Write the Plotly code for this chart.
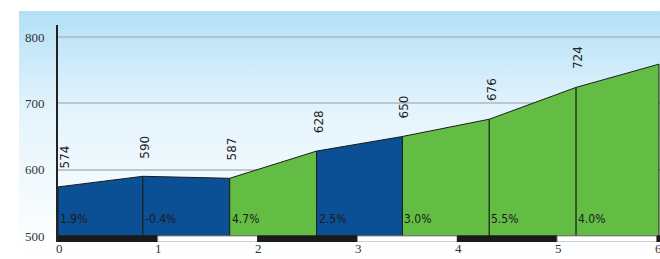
import base64
import plotly.graph_objects as go

# ---- data ----
distance_km = [0, 0.85, 1.72, 2.59, 3.45, 4.32, 5.19, 6.02]
elevation_m = [574, 590, 587, 628, 650, 676, 724, 759]
grade_labels = ["1.9%", "-0.4%", "4.7%", "2.5%", "3.0%", "5.5%", "4.0%"]
segment_colors = ["#0b4f94", "#0b4f94", "#63bd45", "#0b4f94", "#63bd45", "#63bd45", "#63bd45"]
x_ticks = [0, 1, 2, 3, 4, 5, 6]
y_ticks = [500, 600, 700, 800]

Y_MIN, Y_MAX = 491, 818
X_MAX = 6.03
BASE = 500

fig = go.Figure()

# filled segments
for i in range(len(grade_labels)):
    x0, x1 = distance_km[i], distance_km[i + 1]
    e0, e1 = elevation_m[i], elevation_m[i + 1]
    fig.add_trace(go.Scatter(
        x=[x0, x0, x1, x1, x0], y=[BASE, e0, e1, BASE, BASE],
        mode="lines", fill="toself", fillcolor=segment_colors[i],
        line=dict(color="#1c1c1c", width=1), hoverinfo="skip", showlegend=False))

annotations = []
# elevation labels (rotated)
for i in range(len(grade_labels)):
    annotations.append(dict(
        x=distance_km[i], y=elevation_m[i], xref="x", yref="y",
        text=str(elevation_m[i]), showarrow=False, textangle=-90,
        xanchor="center", yanchor="bottom", xshift=7 if i == 0 else 2, yshift=16,
        font=dict(family="DejaVu Sans", size=12, color="#222222")))
# grade labels
for i, g in enumerate(grade_labels):
    annotations.append(dict(
        x=distance_km[i], y=BASE, xref="x", yref="y", text=g, showarrow=False,
        xanchor="left", yanchor="middle", xshift=0, yshift=17,
        font=dict(family="DejaVu Sans Condensed", size=12, color="#1a1a1a")))
# km tick labels under the band bar
for k in x_ticks:
    annotations.append(dict(
        x=k, y=0, xref="x", yref="paper", text=str(k), showarrow=False,
        xanchor="center", yanchor="middle", xshift=1, yshift=-6,
        font=dict(family="Liberation Sans Narrow", size=13, color="#333333")))

# km band bar under the profile
shapes = []
for k in x_ticks:
    x1 = min(k + 1, X_MAX)
    if k >= X_MAX:
        continue
    dark = (k % 2 == 0)
    shapes.append(dict(
        type="rect", xref="x", yref="y", x0=k, x1=x1, y0=Y_MIN, y1=BASE,
        fillcolor="#1a1a1a" if dark else "#ffffff",
        line=dict(color="#1a1a1a" if dark else "#9a9a9a", width=1), layer="above"))

# background gradient
svg = ('<svg xmlns="http://www.w3.org/2000/svg" width="100" height="100" preserveAspectRatio="none">'
       '<defs><linearGradient id="g" x1="0" y1="0" x2="0" y2="1">'
       '<stop offset="0" stop-color="#b3e0f6"/><stop offset="0.4" stop-color="#e4f4fc"/>'
       '<stop offset="1" stop-color="#ffffff"/></linearGradient></defs>'
       '<rect width="100" height="100" fill="url(#g)"/></svg>')
src = "data:image/svg+xml;base64," + base64.b64encode(svg.encode()).decode()

fig.update_layout(
    width=660, height=259,
    margin=dict(l=58, r=0, t=25, b=17, autoexpand=False),
    paper_bgcolor="white", plot_bgcolor="rgba(0,0,0,0)",
    showlegend=False,
    annotations=annotations, shapes=shapes,
    images=[dict(source=src, xref="paper", yref="paper",
                 x=-0.0648, y=1.0645, sizex=1.0648, sizey=1.143,
                 xanchor="left", yanchor="top", sizing="stretch", layer="below")],
    xaxis=dict(range=[0, X_MAX], tickvals=x_ticks, showgrid=False, zeroline=False,
               showline=False, ticks="", fixedrange=True, automargin=False,
               showticklabels=False),
    yaxis=dict(range=[Y_MIN, Y_MAX], tickvals=y_ticks, showgrid=True,
               gridcolor="rgba(170,180,190,0.7)", gridwidth=2, zeroline=False,
               showline=True, linecolor="#222222", linewidth=2, ticks="",
               ticklabelstandoff=9, fixedrange=True, automargin=False,
               tickfont=dict(family="Liberation Sans Narrow", size=13, color="#333333")),
)

fig.write_html("out.html", config={"displayModeBar": False},
               post_script="document.body.style.margin='0';document.body.style.overflow='hidden';")
